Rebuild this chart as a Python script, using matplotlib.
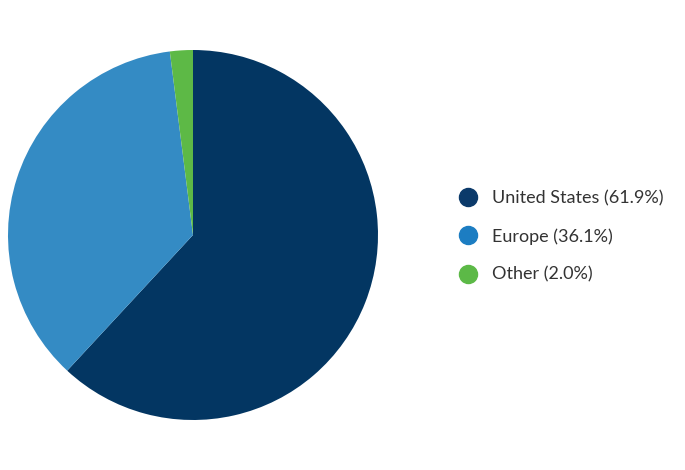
import matplotlib.pyplot as plt
from matplotlib.lines import Line2D

regions = ["United States", "Europe", "Other"]
shares = [61.9, 36.1, 2.0]
pie_colors = ["#033662", "#348BC4", "#5DB946"]
dot_colors = ["#0B3A6A", "#1C7DC2", "#5CB947"]

plt.rcParams['font.family'] = ['Lato', 'DejaVu Sans']

fig = plt.figure(figsize=(6.85, 4.70), dpi=100)
# pie centre ~ (193, 235) px, radius ~185 px
ax = fig.add_axes([8 / 685, 50 / 470, 370 / 685, 370 / 470])
ax.pie(shares, colors=pie_colors, startangle=90, counterclock=False,
       radius=1, wedgeprops=dict(linewidth=0))
ax.set_xlim(-1, 1)
ax.set_ylim(-1, 1)
ax.set_aspect('equal')

handles = [Line2D([], [], marker='o', linestyle='', markersize=13,
                  markerfacecolor=c, markeredgecolor=c) for c in dot_colors]
labels = [f"{r} ({s:.1f}%)" for r, s in zip(regions, shares)]
fig.legend(handles, labels, loc='center left', bbox_to_anchor=(0.646, 0.497),
           frameon=False, fontsize=13, labelcolor='#333333',
           handletextpad=0.83, labelspacing=1.22, handlelength=1.0)

fig.savefig("out.png", dpi=100)
